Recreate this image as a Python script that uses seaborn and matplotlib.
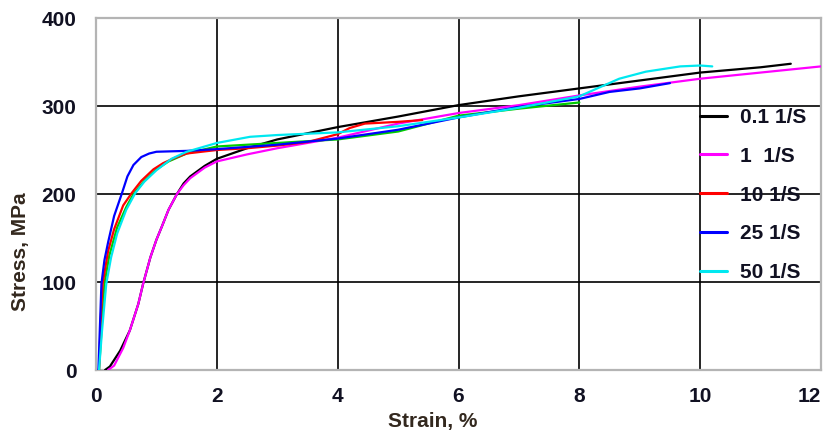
import numpy as np
import pandas as pd
import matplotlib
matplotlib.use("Agg")
import matplotlib.pyplot as plt
import seaborn as sns
from matplotlib.lines import Line2D

# ---- data ----
strain_01 = [0.15, 0.23, 0.4, 0.56, 0.7, 0.78, 0.9, 1.0, 1.09, 1.2, 1.34, 1.45, 1.56, 1.8, 2.0, 2.5, 3.0, 3.5, 4.0, 5.0, 6.0, 7.0, 8.0, 9.0, 10.0, 11.0, 11.5]
stress_01 = [0, 4, 22, 45, 75, 98, 128, 148, 163, 182, 200, 212, 220, 232, 240, 252, 262, 269, 276, 288, 301, 311, 320, 329, 338, 344, 348]

strain_1 = [0.2, 0.3, 0.45, 0.56, 0.7, 0.78, 0.9, 1.0, 1.09, 1.2, 1.34, 1.45, 1.56, 1.8, 2.0, 2.5, 3.0, 3.5, 4.0, 4.5, 5.0, 6.0, 7.0, 8.0, 9.0, 10.0, 11.0, 12.0]
stress_1 = [0, 5, 25, 45, 75, 98, 128, 148, 163, 182, 200, 210, 218, 230, 237, 245, 252, 258, 264, 272, 280, 292, 301, 312, 322, 331, 338, 345]

strain_10 = [0.05, 0.08, 0.11, 0.2, 0.3, 0.45, 0.59, 0.75, 0.95, 1.11, 1.3, 1.5, 2.0, 2.5, 3.0, 3.5, 4.0, 4.2, 4.45, 5.0, 5.4]
stress_10 = [0, 60, 98, 135, 160, 187, 201, 215, 228, 235, 241, 246, 250, 252, 255, 259, 268, 275, 280, 282, 284]

strain_g = [0.05, 0.1, 0.14, 0.22, 0.35, 0.5, 0.62, 0.8, 1.0, 1.2, 1.5, 2.0, 3.0, 4.0, 5.0, 6.0, 7.0, 8.0]
stress_g = [0, 55, 98, 130, 162, 185, 200, 215, 228, 237, 246, 254, 258, 262, 271, 289, 297, 304]

strain_25 = [0.04, 0.06, 0.09, 0.14, 0.2, 0.3, 0.43, 0.52, 0.62, 0.75, 0.88, 1.0, 1.5, 2.0, 3.0, 4.0, 5.0, 6.0, 7.0, 8.0, 8.5, 9.0, 9.5]
stress_25 = [0, 40, 98, 125, 145, 175, 201, 220, 233, 242, 246, 248, 249, 251, 256, 263, 273, 287, 299, 308, 316, 320, 326]

strain_50 = [0.05, 0.1, 0.17, 0.25, 0.35, 0.5, 0.65, 0.8, 1.0, 1.25, 1.5, 2.0, 2.55, 3.0, 4.0, 5.0, 6.0, 7.0, 8.0, 8.66, 9.1, 9.67, 10.0, 10.2]
stress_50 = [0, 45, 98, 128, 155, 182, 201, 214, 227, 240, 248, 258, 265, 267, 270, 277, 287, 298, 311, 331, 339, 345, 346, 345]

legend_labels = ["0.1 1/S", "1  1/S", "10 1/S", "25 1/S", "50 1/S"]
x_ticks = [0, 2, 4, 6, 8, 10, 12]
y_ticks = [0, 100, 200, 300, 400]

series = [
    (strain_01, stress_01, "#000000", legend_labels[0]),
    (strain_1, stress_1, "#ff00ff", legend_labels[1]),
    (strain_g, stress_g, "#00cc00", None),
    (strain_10, stress_10, "#ff0000", legend_labels[2]),
    (strain_25, stress_25, "#0000ff", legend_labels[3]),
    (strain_50, stress_50, "#00e8f0", legend_labels[4]),
]

sns.set_theme(style="white")
plt.rcParams["font.family"] = ["Liberation Sans", "DejaVu Sans"]

W, H = 827, 437
fig = plt.figure(figsize=(W / 100, H / 100), dpi=100)
ax = fig.add_axes([96 / W, 1 - 370 / H, (821 - 96) / W, (370 - 18) / H])

handles = {}
for xs, ys, col, lab in series:
    df = pd.DataFrame({"strain": xs, "stress": ys})
    sns.lineplot(data=df, x="strain", y="stress", sort=False, estimator=None,
                 color=col, linewidth=1.6, ax=ax, zorder=3)
    if lab is not None:
        handles[lab] = Line2D([0], [0], color=col, linewidth=2.2)

ax.set_xlim(0, 12)
ax.set_ylim(0, 400)
ax.set_xticks(x_ticks)
ax.set_yticks(y_ticks)
ax.set_xticklabels([str(t) for t in x_ticks])
ax.set_yticklabels([str(t) for t in y_ticks])
ax.grid(True, which="major", color="#000000", linewidth=1.2, zorder=1)
ax.tick_params(axis="both", length=0, labelsize=15, labelcolor="#111122")
ax.tick_params(axis="x", pad=12)
ax.tick_params(axis="y", pad=14)
for lbl in ax.get_xticklabels() + ax.get_yticklabels():
    lbl.set_fontweight("bold")
ax.get_xticklabels()[-1].set_horizontalalignment("right")

for s in ax.spines.values():
    s.set_visible(True)
    s.set_color("#b4b4b4")
    s.set_linewidth(1.6)

ax.set_xlabel("Strain, %", fontsize=15, fontweight="bold", color="#33281e")
ax.set_ylabel("Stress, MPa", fontsize=15, fontweight="bold", color="#33281e")
ax.xaxis.set_label_coords((433 - 96) / 725, (370 - 422) / 352)
ax.yaxis.set_label_coords((21 - 96) / 725, (370 - 252) / 352)
ax.xaxis.label.set_va("center")
ax.yaxis.label.set_va("center")

leg = ax.legend([handles[l] for l in legend_labels], legend_labels,
                loc="upper left", bbox_to_anchor=(700 / W, 1 - 108 / H),
                bbox_transform=fig.transFigure, frameon=False,
                fontsize=15, handlelength=1.3, handletextpad=0.6,
                labelspacing=0.95, borderpad=0, borderaxespad=0)
for t in leg.get_texts():
    t.set_fontweight("bold")
    t.set_color("#111122")

fig.savefig("out.png", dpi=100)
